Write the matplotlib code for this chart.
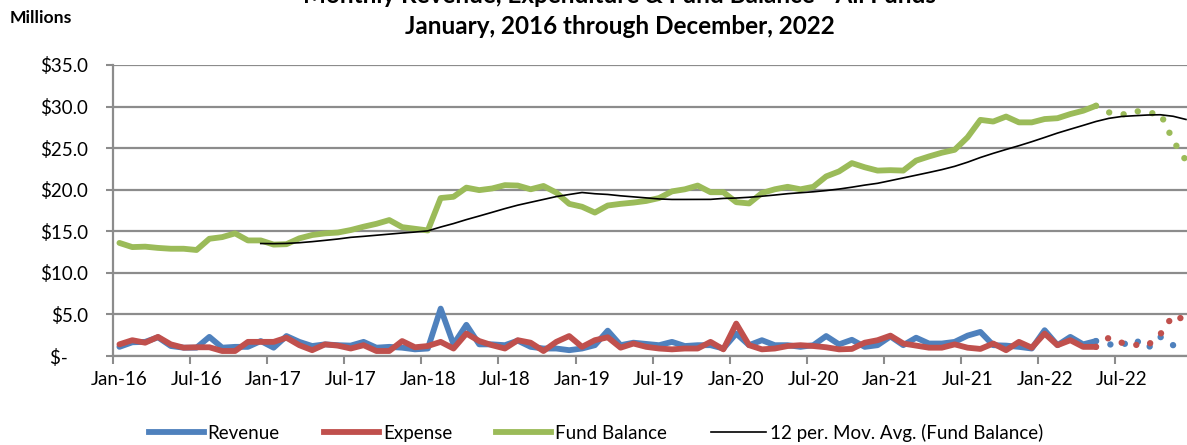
import matplotlib
matplotlib.use("Agg")
import matplotlib.pyplot as plt
import numpy as np
import pandas as pd
from matplotlib.lines import Line2D
from matplotlib.ticker import FixedLocator, FuncFormatter

# ---------------- data (millions of dollars) ----------------
months = pd.date_range("2016-01-01", "2022-12-01", freq="MS")
month_labels = [d.strftime("%b-%y") for d in months]

revenue = [1.1, 1.65, 1.7, 2.25, 1.2, 1.0, 1.0, 2.3, 1.0, 1.1, 1.1, 1.8,
           1.0, 2.4, 1.7, 1.2, 1.4, 1.3, 1.25, 1.7, 1.0, 1.1, 1.0, 0.8,
           0.9, 5.7, 1.4, 3.75, 1.4, 1.4, 1.3, 1.85, 1.1, 0.9, 0.9, 0.7,
           0.9, 1.3, 3.05, 1.3, 1.6, 1.45, 1.3, 1.7, 1.2, 1.3, 1.3, 0.9,
           2.7, 1.3, 1.9, 1.3, 1.3, 1.1, 1.3, 2.4, 1.4, 1.95, 1.1, 1.3,
           2.35, 1.3, 2.2, 1.5, 1.5, 1.7, 2.45, 2.9, 1.3, 1.25, 1.1, 0.9,
           3.1, 1.3, 2.3, 1.4, 1.8, 1.4, 1.3, 2.0, 0.9, 2.3, 1.3, 1.85]

expense = [1.4, 1.9, 1.6, 2.3, 1.4, 1.0, 1.05, 1.05, 0.6, 0.6, 1.7, 1.7,
           1.7, 2.2, 1.3, 0.7, 1.4, 1.25, 0.9, 1.3, 0.6, 0.6, 1.8, 1.05,
           1.2, 1.7, 0.9, 2.7, 1.8, 1.3, 0.9, 1.9, 1.6, 0.6, 1.7, 2.4,
           1.1, 1.9, 2.25, 1.0, 1.5, 1.1, 0.9, 0.8, 0.9, 0.9, 1.7, 0.8,
           3.9, 1.3, 0.8, 0.9, 1.2, 1.3, 1.2, 1.05, 0.8, 0.85, 1.6, 1.9,
           2.45, 1.5, 1.25, 1.0, 1.0, 1.4, 1.0, 0.85, 1.5, 0.7, 1.7, 1.0,
           2.7, 1.3, 1.9, 1.1, 1.1, 2.2, 1.6, 1.35, 1.25, 2.6, 4.9, 4.3]

fund_balance = [13.6, 13.1, 13.15, 13.0, 12.9, 12.9, 12.75, 14.1, 14.3, 14.75, 13.9, 13.9,
                13.4, 13.45, 14.15, 14.55, 14.75, 14.85, 15.15, 15.55, 15.9, 16.35, 15.5, 15.3,
                15.1, 19.0, 19.15, 20.25, 19.95, 20.15, 20.55, 20.5, 20.05, 20.45, 19.65, 18.3,
                17.95, 17.25, 18.1, 18.3, 18.45, 18.65, 19.0, 19.8, 20.05, 20.5, 19.7, 19.7,
                18.5, 18.35, 19.6, 20.05, 20.35, 20.05, 20.35, 21.6, 22.2, 23.2, 22.7, 22.3,
                22.35, 22.3, 23.5, 24.0, 24.45, 24.8, 26.3, 28.4, 28.2, 28.8, 28.1, 28.1,
                28.5, 28.6, 29.1, 29.5, 30.1, 29.3, 29.0, 29.5, 29.2, 29.2, 25.9, 23.5]

last_actual = 76          # May-22: later months are projections (dotted)
ma_window = 12

series_names = ["Revenue", "Expense", "Fund Balance", "12 per. Mov. Avg. (Fund Balance)"]
title_line1 = "Monthly Revenue, Expenditure & Fund Balance - All Funds"
title_line2 = "January, 2016 through December, 2022"
y_ticks = [0, 5, 10, 15, 20, 25, 30, 35]

# ---------------- style ----------------
plt.rcParams['font.family'] = ['Lato', 'DejaVu Sans']
BLUE = "#4F81BD"
RED = "#C0504D"
GREEN = "#9BBB59"
GRID = "#8C8C8C"
FS = 13.5

W, H = 1187, 445
fig = plt.figure(figsize=(W / 100, H / 100), dpi=100)
month_px = 12.85
ax = fig.add_axes([113 / W, (H - 356) / H, 84 * month_px / W, (356 - 65) / H])

x = np.arange(len(months))
dot_style = (0, (0.01, 2.3))

def draw(values, color, z):
    v = np.asarray(values)
    ax.plot(x[:last_actual + 1], v[:last_actual + 1], color=color, lw=4.2,
            solid_joinstyle='round', solid_capstyle='round', zorder=z)
    ax.plot(x[last_actual:], v[last_actual:], color=color, lw=4.6,
            linestyle=dot_style, dash_capstyle='round', zorder=z)

draw(revenue, BLUE, 3)
draw(expense, RED, 4)
draw(fund_balance, GREEN, 5)
ma = pd.Series(fund_balance).rolling(ma_window).mean()
ax.plot(x, ma, color="black", lw=1.2, zorder=6)

ax.set_xlim(-0.5, len(months) - 0.5)
ax.set_ylim(0, 35)

# y axis (accounting style: zero shown as "$-" with trailing padding)
ax.yaxis.set_major_locator(FixedLocator(y_ticks))
ax.yaxis.set_major_formatter(FuncFormatter(
    lambda v, p: "$-\u2007  " if v == 0 else f"${v:.1f}"))
ax.tick_params(axis='y', direction='out', length=5, width=1.5, color=GRID,
               pad=13, labelsize=FS, labelcolor='black')
ax.grid(axis='y', color=GRID, lw=1.6, zorder=1)

# x axis: ticks at category boundaries every 6 months, labels centred on months
ax.xaxis.set_major_locator(FixedLocator(np.arange(-0.5, len(months), 6)))
ax.xaxis.set_major_formatter(FuncFormatter(lambda v, p: ""))
label_idx = list(range(0, len(months), 6))
ax.xaxis.set_minor_locator(FixedLocator(label_idx))
ax.xaxis.set_minor_formatter(FuncFormatter(lambda v, p: month_labels[int(round(v))]))
ax.tick_params(axis='x', which='major', direction='out', length=6, width=1.5, color=GRID)
ax.tick_params(axis='x', which='minor', length=0, pad=11, labelsize=FS)

for s in ['top', 'right']:
    ax.spines[s].set_visible(False)
for s in ['left', 'bottom']:
    ax.spines[s].set_color(GRID)
    ax.spines[s].set_linewidth(1.6)
ax.set_axisbelow(True)

# titles
fig.text(620 / W, (H - 3) / H, title_line1, ha='center', va='baseline',
         fontsize=17.5, fontweight='bold')
fig.text(620 / W, (H - 34) / H, title_line2, ha='center', va='baseline',
         fontsize=17.5, fontweight='bold')
fig.text(10 / W, (H - 23) / H, "Millions", ha='left', va='baseline',
         fontsize=12.6, fontweight='bold')

# legend
handles = [Line2D([], [], color=BLUE, lw=4.2),
           Line2D([], [], color=RED, lw=4.2),
           Line2D([], [], color=GREEN, lw=4.2),
           Line2D([], [], color='black', lw=1.2)]
fig.legend(handles, series_names, loc='center', bbox_to_anchor=(596 / W, (H - 433) / H),
           ncol=4, frameon=False, fontsize=FS, handlelength=2.95, handletextpad=0.2,
           columnspacing=2.35, borderaxespad=0, borderpad=0)

fig.savefig("out.png", dpi=100)
